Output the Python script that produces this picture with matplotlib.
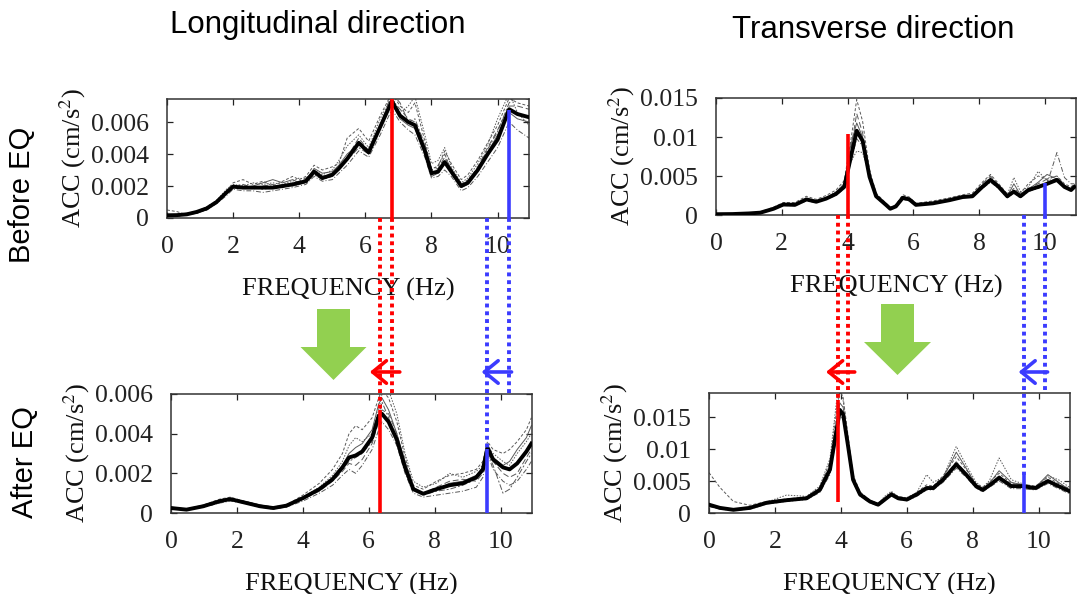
import matplotlib
matplotlib.use("Agg")
import matplotlib.pyplot as plt
from matplotlib.lines import Line2D
from matplotlib.patches import Polygon
from matplotlib.transforms import blended_transform_factory as blend

# ---------------- data ----------------
titles = ["Longitudinal direction", "Transverse direction"]
row_labels = ["Before EQ", "After EQ"]
xlabel = "FREQUENCY (Hz)"
ylabel = "ACC (cm/s$^{2}$)"
xticks = [0, 2, 4, 6, 8, 10]

# Top-left: longitudinal, before EQ
tl_f = [0, 0.3, 0.6, 0.9, 1.2, 1.5, 1.8, 2.0, 2.3, 2.6, 2.9, 3.2, 3.5, 3.8, 4.0, 4.2, 4.45, 4.7, 5.0, 5.2,
        5.45, 5.8, 6.1, 6.45, 6.8, 7.05, 7.3, 7.5, 7.8, 8.0, 8.2, 8.4, 8.6, 8.9, 9.1, 9.4, 9.7, 10.0, 10.35, 10.6, 10.95]
tl_mean = [0.00017, 0.00018, 0.00023, 0.00038, 0.0006, 0.001, 0.0016, 0.00196, 0.0019, 0.0019, 0.0019, 0.0019,
           0.002, 0.0021, 0.0022, 0.0023, 0.0029, 0.0025, 0.0027, 0.0031, 0.0037, 0.0047, 0.0041, 0.0057, 0.0073,
           0.0064, 0.006, 0.0058, 0.0042, 0.0028, 0.0029, 0.0035, 0.0029, 0.002, 0.0022, 0.003, 0.004, 0.0049,
           0.0068, 0.0065, 0.0063]
tl_runs = [
    [0.0005, 0.0004, 0.0002, 0.0003, 0.0006, 0.0011, 0.0017, 0.0022, 0.0024, 0.0021, 0.0023, 0.0020, 0.0023, 0.0026,
     0.0024, 0.0026, 0.0033, 0.0030, 0.0032, 0.0034, 0.0050, 0.0056, 0.0048, 0.0064, 0.0078, 0.0070, 0.0066, 0.0072,
     0.0048, 0.0031, 0.0032, 0.0042, 0.0034, 0.0024, 0.0027, 0.0036, 0.0047, 0.0058, 0.0075, 0.0072, 0.0070],
    [0.0001, 0.00015, 0.0002, 0.0003, 0.0005, 0.0009, 0.0014, 0.0018, 0.0017, 0.0017, 0.0016, 0.0017, 0.0018, 0.0019,
     0.0020, 0.0021, 0.0026, 0.0023, 0.0024, 0.0028, 0.0033, 0.0042, 0.0038, 0.0052, 0.0068, 0.0060, 0.0055, 0.0052,
     0.0038, 0.0025, 0.0026, 0.0030, 0.0026, 0.0017, 0.0019, 0.0026, 0.0035, 0.0044, 0.0060, 0.0055, 0.0050],
    [0.0002, 0.0002, 0.00025, 0.0004, 0.0007, 0.0011, 0.0018, 0.0021, 0.0020, 0.0022, 0.0021, 0.0022, 0.0021, 0.0023,
     0.0025, 0.0024, 0.0030, 0.0027, 0.0030, 0.0036, 0.0045, 0.0052, 0.0044, 0.0062, 0.0076, 0.0066, 0.0070, 0.0076,
     0.0052, 0.0034, 0.0036, 0.0044, 0.0032, 0.0022, 0.0025, 0.0034, 0.0046, 0.0062, 0.0078, 0.0066, 0.0058],
    [0.0001, 0.0002, 0.0002, 0.0004, 0.0006, 0.0010, 0.0015, 0.0019, 0.0020, 0.0018, 0.0020, 0.0021, 0.0019, 0.0022,
     0.0023, 0.0025, 0.0028, 0.0026, 0.0028, 0.0030, 0.0038, 0.0050, 0.0042, 0.0058, 0.0074, 0.0068, 0.0062, 0.0060,
     0.0044, 0.0030, 0.0031, 0.0038, 0.0031, 0.0021, 0.0023, 0.0032, 0.0044, 0.0055, 0.0070, 0.0070, 0.0068],
    [0.0002, 0.0002, 0.0003, 0.0004, 0.0006, 0.0010, 0.0016, 0.0020, 0.0019, 0.0020, 0.0022, 0.0024, 0.0022, 0.0024,
     0.0022, 0.0023, 0.0031, 0.0028, 0.0029, 0.0033, 0.0040, 0.0046, 0.0040, 0.0056, 0.0072, 0.0062, 0.0058, 0.0056,
     0.0040, 0.0026, 0.0028, 0.0034, 0.0028, 0.0019, 0.0021, 0.0031, 0.0041, 0.0052, 0.0066, 0.0062, 0.0060],
    [0.0002, 0.0001, 0.0002, 0.0003, 0.0005, 0.0010, 0.0016, 0.0020, 0.0021, 0.0019, 0.0018, 0.0019, 0.0021, 0.0020,
     0.0021, 0.0022, 0.0027, 0.0024, 0.0026, 0.0031, 0.0036, 0.0044, 0.0040, 0.0058, 0.0078, 0.0072, 0.0060, 0.0062,
     0.0046, 0.0030, 0.0033, 0.0040, 0.0030, 0.0021, 0.0024, 0.0031, 0.0043, 0.0054, 0.0072, 0.0076, 0.0074],
]

# Top-right: transverse, before EQ
tr_f = [0, 0.5, 1.0, 1.35, 1.75, 2.05, 2.4, 2.75, 3.05, 3.35, 3.65, 3.9, 4.1, 4.28, 4.46, 4.67, 4.87, 5.17, 5.3,
        5.47, 5.68, 5.88, 6.08, 6.6, 7.1, 7.5, 7.8, 8.1, 8.35, 8.6, 8.86, 9.06, 9.26, 9.5, 9.8, 10.07, 10.37, 10.6,
        10.8, 10.9]
tr_mean = [0.0001, 0.00012, 0.0002, 0.0003, 0.0008, 0.00135, 0.0013, 0.002, 0.0017, 0.0021, 0.0027, 0.0036, 0.0074,
           0.0108, 0.0095, 0.0049, 0.0024, 0.0013, 0.0008, 0.0011, 0.0022, 0.002, 0.0013, 0.0015, 0.0019, 0.0023,
           0.0024, 0.0036, 0.0045, 0.0036, 0.0024, 0.003, 0.0024, 0.0032, 0.0036, 0.004, 0.0045, 0.0036, 0.0032,
           0.0036]
tr_runs = [
    [0.0001, 0.00015, 0.00025, 0.0004, 0.0010, 0.0016, 0.0016, 0.0024, 0.0020, 0.0025, 0.0032, 0.0044, 0.0095, 0.0148,
     0.0120, 0.0058, 0.0028, 0.0015, 0.0010, 0.0013, 0.0026, 0.0023, 0.0015, 0.0018, 0.0022, 0.0026, 0.0028, 0.0042,
     0.0052, 0.0040, 0.0027, 0.0034, 0.0028, 0.0040, 0.0050, 0.0046, 0.0050, 0.0040, 0.0036, 0.0040],
    [0.0001, 0.0001, 0.0002, 0.0003, 0.0007, 0.0012, 0.0012, 0.0018, 0.0016, 0.0020, 0.0025, 0.0034, 0.0068, 0.0098,
     0.0088, 0.0046, 0.0022, 0.0012, 0.0008, 0.0010, 0.0020, 0.0018, 0.0012, 0.0014, 0.0018, 0.0022, 0.0023, 0.0034,
     0.0042, 0.0034, 0.0022, 0.0028, 0.0022, 0.0030, 0.0034, 0.0040, 0.0080, 0.0048, 0.0040, 0.0040],
    [0.0001, 0.0001, 0.0002, 0.0003, 0.0008, 0.0013, 0.0014, 0.0019, 0.0018, 0.0022, 0.0030, 0.0040, 0.0068, 0.0082,
     0.0080, 0.0050, 0.0026, 0.0014, 0.0009, 0.0012, 0.0024, 0.0022, 0.0014, 0.0016, 0.0020, 0.0024, 0.0025, 0.0038,
     0.0048, 0.0038, 0.0026, 0.0048, 0.0030, 0.0036, 0.0056, 0.0044, 0.0046, 0.0038, 0.0034, 0.0038],
    [0.0001, 0.0001, 0.0002, 0.0003, 0.0008, 0.0014, 0.0013, 0.0021, 0.0017, 0.0021, 0.0028, 0.0038, 0.0084, 0.0130,
     0.0105, 0.0052, 0.0025, 0.0013, 0.0008, 0.0012, 0.0024, 0.0021, 0.0013, 0.0016, 0.0021, 0.0025, 0.0026, 0.0040,
     0.0050, 0.0038, 0.0025, 0.0030, 0.0025, 0.0034, 0.0040, 0.0046, 0.0050, 0.0038, 0.0033, 0.0038],
    [0.0001, 0.0001, 0.0002, 0.0003, 0.0008, 0.0013, 0.0013, 0.0020, 0.0017, 0.0022, 0.0029, 0.0040, 0.0090, 0.0118,
     0.0100, 0.0050, 0.0024, 0.0013, 0.0008, 0.0011, 0.0022, 0.0020, 0.0013, 0.0015, 0.0019, 0.0023, 0.0024, 0.0036,
     0.0044, 0.0036, 0.0024, 0.0040, 0.0026, 0.0033, 0.0042, 0.0052, 0.0046, 0.0036, 0.0032, 0.0036],
]

# Bottom-left: longitudinal, after EQ
bl_f = [0, 0.47, 0.98, 1.48, 1.8, 2.2, 2.7, 3.1, 3.5, 4.0, 4.5, 4.9, 5.2, 5.4, 5.6, 5.8, 6.1, 6.3, 6.4, 6.6, 6.85,
        7.1, 7.35, 7.65, 8.05, 8.45, 8.85, 9.26, 9.46, 9.6, 9.77, 10.07, 10.27, 10.5, 10.78, 10.93]
bl_mean = [0.00025, 0.00017, 0.00034, 0.0006, 0.0007, 0.00054, 0.00034, 0.00025, 0.00037, 0.00075, 0.0012, 0.0017,
           0.0023, 0.0028, 0.0029, 0.0031, 0.0038, 0.0049, 0.005, 0.0046, 0.0037, 0.0023, 0.0012, 0.00097, 0.0012,
           0.0014, 0.0015, 0.0018, 0.0022, 0.0033, 0.0027, 0.0023, 0.0022, 0.0025, 0.0031, 0.0035]
bl_runs = [
    [0.0003, 0.0002, 0.0004, 0.0007, 0.0008, 0.0006, 0.0004, 0.0003, 0.0004, 0.0009, 0.0015, 0.0022, 0.0030, 0.0040,
     0.0044, 0.0042, 0.0048, 0.0058, 0.0062, 0.0058, 0.0046, 0.0028, 0.0014, 0.0012, 0.0016, 0.0019, 0.0020, 0.0022,
     0.0026, 0.0036, 0.0032, 0.0030, 0.0032, 0.0036, 0.0042, 0.0048],
    [0.0002, 0.00015, 0.0003, 0.0005, 0.0006, 0.0005, 0.0003, 0.0002, 0.0003, 0.0006, 0.0010, 0.0014, 0.0019, 0.0022,
     0.0020, 0.0024, 0.0032, 0.0042, 0.0046, 0.0042, 0.0034, 0.0020, 0.0010, 0.0008, 0.0009, 0.0010, 0.0011, 0.0013,
     0.0018, 0.0030, 0.0022, 0.0016, 0.0014, 0.0016, 0.0022, 0.0026],
    [0.0003, 0.0002, 0.0003, 0.0006, 0.0007, 0.0006, 0.0004, 0.0003, 0.0004, 0.0008, 0.0013, 0.0019, 0.0026, 0.0034,
     0.0038, 0.0036, 0.0040, 0.0052, 0.0060, 0.0062, 0.0050, 0.0030, 0.0016, 0.0013, 0.0015, 0.0020, 0.0018, 0.0021,
     0.0024, 0.0034, 0.0030, 0.0026, 0.0024, 0.0030, 0.0036, 0.0040],
    [0.0002, 0.0002, 0.0003, 0.0006, 0.0007, 0.0005, 0.0003, 0.0002, 0.0004, 0.0007, 0.0011, 0.0016, 0.0021, 0.0025,
     0.0024, 0.0027, 0.0035, 0.0046, 0.0052, 0.0050, 0.0040, 0.0024, 0.0013, 0.0010, 0.0013, 0.0016, 0.0017, 0.0016,
     0.0020, 0.0032, 0.0026, 0.0020, 0.0018, 0.0020, 0.0028, 0.0032],
    [0.0002, 0.0002, 0.0004, 0.0006, 0.0007, 0.0006, 0.0004, 0.0003, 0.0004, 0.0008, 0.0012, 0.0018, 0.0024, 0.0030,
     0.0033, 0.0035, 0.0042, 0.0055, 0.0058, 0.0052, 0.0040, 0.0026, 0.0012, 0.0010, 0.0012, 0.0015, 0.0016, 0.0019,
     0.0023, 0.0034, 0.0028, 0.0024, 0.0026, 0.0032, 0.0038, 0.0044],
    [0.0002, 0.0002, 0.0003, 0.0005, 0.0007, 0.0005, 0.0003, 0.0002, 0.0003, 0.0007, 0.0012, 0.0017, 0.0022, 0.0026,
     0.0028, 0.0030, 0.0036, 0.0048, 0.0056, 0.0048, 0.0036, 0.0022, 0.0012, 0.0009, 0.0011, 0.0012, 0.0014, 0.0017,
     0.0021, 0.0031, 0.0024, 0.0010, 0.0012, 0.0018, 0.0026, 0.0030],
]

# Bottom-right: transverse, after EQ
br_f = [0, 0.33, 0.74, 1.24, 1.75, 2.35, 2.96, 3.36, 3.67, 3.87, 3.97, 4.07, 4.22, 4.37, 4.58, 4.88, 5.13, 5.33,
        5.53, 5.74, 6.0, 6.3, 6.6, 6.8, 7.1, 7.5, 7.8, 8.1, 8.3, 8.5, 8.8, 9.17, 9.5, 9.9, 10.28, 10.6, 10.94]
br_mean = [0.0013, 0.0008, 0.0005, 0.0008, 0.0016, 0.002, 0.0023, 0.0036, 0.0068, 0.013, 0.0161, 0.0154, 0.0104,
           0.0052, 0.0029, 0.0018, 0.0013, 0.0021, 0.0029, 0.0023, 0.0021, 0.0029, 0.0039, 0.0039, 0.0052, 0.0076,
           0.006, 0.0042, 0.0036, 0.0043, 0.0055, 0.0042, 0.0042, 0.0039, 0.005, 0.0042, 0.0034]
br_runs = [
    [0.0063, 0.0040, 0.0018, 0.0012, 0.0018, 0.0022, 0.0025, 0.0040, 0.0080, 0.0160, 0.0190, 0.0180, 0.0120, 0.0060,
     0.0033, 0.0020, 0.0014, 0.0023, 0.0032, 0.0026, 0.0023, 0.0032, 0.0044, 0.0042, 0.0058, 0.0088, 0.0068, 0.0046,
     0.0040, 0.0048, 0.0062, 0.0046, 0.0045, 0.0042, 0.0056, 0.0046, 0.0038],
    [0.0010, 0.0006, 0.0004, 0.0006, 0.0014, 0.0018, 0.0021, 0.0032, 0.0060, 0.0120, 0.0150, 0.0148, 0.0098, 0.0048,
     0.0026, 0.0016, 0.0011, 0.0019, 0.0027, 0.0021, 0.0019, 0.0026, 0.0036, 0.0036, 0.0048, 0.0070, 0.0056, 0.0039,
     0.0033, 0.0040, 0.0050, 0.0038, 0.0038, 0.0036, 0.0046, 0.0038, 0.0030],
    [0.0012, 0.0007, 0.0005, 0.0009, 0.0017, 0.0028, 0.0026, 0.0042, 0.0085, 0.0175, 0.0200, 0.0175, 0.0110, 0.0055,
     0.0032, 0.0020, 0.0015, 0.0026, 0.0034, 0.0025, 0.0024, 0.0032, 0.0060, 0.0048, 0.0056, 0.0104, 0.0075, 0.0048,
     0.0040, 0.0050, 0.0086, 0.0052, 0.0046, 0.0040, 0.0058, 0.0052, 0.0040],
    [0.0014, 0.0009, 0.0006, 0.0008, 0.0015, 0.0019, 0.0022, 0.0034, 0.0064, 0.0125, 0.0158, 0.0160, 0.0112, 0.0056,
     0.0030, 0.0017, 0.0012, 0.0020, 0.0028, 0.0022, 0.0020, 0.0028, 0.0038, 0.0040, 0.0054, 0.0080, 0.0062, 0.0043,
     0.0035, 0.0042, 0.0058, 0.0044, 0.0040, 0.0036, 0.0048, 0.0040, 0.0032],
    [0.0011, 0.0007, 0.0004, 0.0007, 0.0016, 0.0020, 0.0024, 0.0038, 0.0072, 0.0140, 0.0172, 0.0165, 0.0108, 0.0054,
     0.0030, 0.0019, 0.0014, 0.0022, 0.0030, 0.0024, 0.0022, 0.0030, 0.0040, 0.0041, 0.0055, 0.0095, 0.0070, 0.0044,
     0.0038, 0.0046, 0.0066, 0.0048, 0.0044, 0.0040, 0.0060, 0.0048, 0.0036],
]

# identified peaks: (frequency, bottom, top) of red / blue markers
tl_red = (6.82, 0.0, 0.0075)
tl_blue = (10.33, 0.0, 0.00675)
tr_red = (4.0, 0.0, 0.0104)
tr_blue = (10.0, 0.0, 0.0041)
bl_red = (6.33, 0.0, 0.0052)
bl_blue = (9.6, 0.0, 0.00325)
br_red = (3.9, 0.0017, 0.0177)
br_blue = (9.55, 0.0, 0.0059)

tl_yticks = [0, 0.002, 0.004, 0.006]
tl_ylabels = ["0", "0.002", "0.004", "0.006"]
tr_yticks = [0, 0.005, 0.01, 0.015]
tr_ylabels = ["0", "0.005", "0.01", "0.015"]
bl_yticks = [0, 0.002, 0.004, 0.006]
bl_ylabels = ["0", "0.002", "0.004", "0.006"]
br_yticks = [0, 0.005, 0.01, 0.015]
br_ylabels = ["0", "0.005", "0.01", "0.015"]

# ---------------- style ----------------
W, H = 1080, 594
SERIF = ["Liberation Serif", "DejaVu Serif"]
SANS = ["Liberation Sans", "DejaVu Sans"]
plt.rcParams["mathtext.fontset"] = "stix"
RED = "#ff0000"
BLUE = "#3b3bff"
GREEN = "#92d050"

fig = plt.figure(figsize=(W / 100, H / 100), dpi=100)


def rect(l, r, t, b):
    return [l / W, 1 - b / H, (r - l) / W, (b - t) / H]


ax_tl = fig.add_axes(rect(167, 529, 99, 218))
ax_tr = fig.add_axes(rect(716, 1076, 98, 215))
ax_bl = fig.add_axes(rect(171, 532, 394, 513))
ax_br = fig.add_axes(rect(709, 1070, 393, 513))

dash_styles = [(0, (3, 2)), (0, (5, 2, 1, 2)), (0, (1.5, 1.5)), (0, (6, 3)), "-", (0, (2, 2, 6, 2))]

panels = [
    (ax_tl, tl_f, tl_mean, tl_runs, tl_red, tl_blue, 0.00744, tl_yticks, tl_ylabels),
    (ax_tr, tr_f, tr_mean, tr_runs, tr_red, tr_blue, 0.0147, tr_yticks, tr_ylabels),
    (ax_bl, bl_f, bl_mean, bl_runs, bl_red, bl_blue, 0.006, bl_yticks, bl_ylabels),
    (ax_br, br_f, br_mean, br_runs, br_red, br_blue, 0.01875, br_yticks, br_ylabels),
]

for ax, f, mean, runs, red, blue, ytop, yt, yl in panels:
    for i, r in enumerate(runs):
        ax.plot(f, r, color="0.35", lw=0.7, ls=dash_styles[i % len(dash_styles)], zorder=2)
    ax.plot(f, mean, color="black", lw=2.8, zorder=3, solid_joinstyle="round")
    ax.vlines(red[0], red[1], red[2], color=RED, lw=2.6, zorder=4)
    ax.vlines(blue[0], blue[1], blue[2], color=BLUE, lw=2.6, zorder=4)
    ax.set_xlim(0, 10.95)
    ax.set_ylim(0, ytop)
    ax.set_xticks(xticks)
    ax.set_xticklabels([str(t) for t in xticks], family=SERIF)
    ax.set_yticks(yt)
    ax.set_yticklabels(yl, family=SERIF)
    ax.tick_params(direction="in", top=True, right=True, length=4, width=0.9,
                   labelsize=18.5, pad=13, colors="#222222")
    for s in ax.spines.values():
        s.set_color("#333333")
        s.set_linewidth(1.1)
    ax.set_xlabel(xlabel, family=SERIF, fontsize=19, labelpad=14, color="#111111")
    ax.set_ylabel(ylabel, family=SERIF, fontsize=19, labelpad=2, color="#111111")

# ---------------- titles / row labels ----------------
fig.text(318 / W, 1 - 25 / H, titles[0], ha="center", va="center", family=SANS, fontsize=22.5)
fig.text(873 / W, 1 - 30 / H, titles[1], ha="center", va="center", family=SANS, fontsize=22.5)
fig.text(22 / W, 1 - 195 / H, row_labels[0], rotation=90, ha="center", va="center", family=SANS, fontsize=21)
fig.text(25 / W, 1 - 462 / H, row_labels[1], rotation=90, ha="center", va="center", family=SANS, fontsize=21)

# ---------------- dotted connectors ----------------
to_fig = fig.transFigure.inverted()


def connector(xy_a, tr_a, xy_b, tr_b, color):
    pa = to_fig.transform(tr_a.transform(xy_a))
    pb = to_fig.transform(tr_b.transform(xy_b))
    fig.add_artist(Line2D([pa[0], pb[0]], [pa[1], pb[1]], transform=fig.transFigure, color=color,
                          lw=2.8, linestyle=(0, (1.0, 1.0)), dash_capstyle="butt", zorder=5))


for top, bot, t_red, t_blue, b_red, b_blue in [(ax_tl, ax_bl, tl_red, tl_blue, bl_red, bl_blue),
                                               (ax_tr, ax_br, tr_red, tr_blue, br_red, br_blue)]:
    for t_pk, b_pk, col in [(t_red, b_red, RED), (t_blue, b_blue, BLUE)]:
        # line at the "after" frequency: from top panel bottom down to after-peak marker
        connector((b_pk[0], 0), blend(bot.transData, top.transData),
                  (b_pk[0], b_pk[2]), bot.transData, col)
        # line at the "before" frequency: from top panel bottom to bottom panel top
        connector((t_pk[0], 0), top.transData,
                  (t_pk[0], 1), blend(top.transData, bot.transAxes), col)

# shift arrows (pointing to lower frequency)
arrows = [
    (ax_bl, 6.94, 6.03, 1.185, RED),
    (ax_bl, 10.33, 9.42, 1.185, BLUE),
    (ax_br, 4.42, 3.55, 1.175, RED),
    (ax_br, 10.27, 9.39, 1.175, BLUE),
]
for ax, x0, x1, yf, col in arrows:
    ax.annotate("", xy=(x1, yf), xytext=(x0, yf), xycoords=("data", "axes fraction"),
                textcoords=("data", "axes fraction"), annotation_clip=False,
                arrowprops=dict(arrowstyle="->,head_length=0.55,head_width=0.45", color=col, lw=2.6,
                                shrinkA=0, shrinkB=0, mutation_scale=18), zorder=6)


# ---------------- green block arrows ----------------
def block_arrow(cx, top, head_base, tip, shaft_hw, head_hw):
    pts = [(cx - shaft_hw, top), (cx + shaft_hw, top), (cx + shaft_hw, head_base), (cx + head_hw, head_base),
           (cx, tip), (cx - head_hw, head_base), (cx - shaft_hw, head_base)]
    pts = [(x / W, 1 - y / H) for x, y in pts]
    fig.add_artist(Polygon(pts, closed=True, transform=fig.transFigure, facecolor=GREEN, edgecolor="none"))


block_arrow(333.5, 309, 347, 380, 16.5, 33)
block_arrow(897.5, 304, 342, 375, 16.5, 33.5)

fig.savefig("out.png", dpi=100)
